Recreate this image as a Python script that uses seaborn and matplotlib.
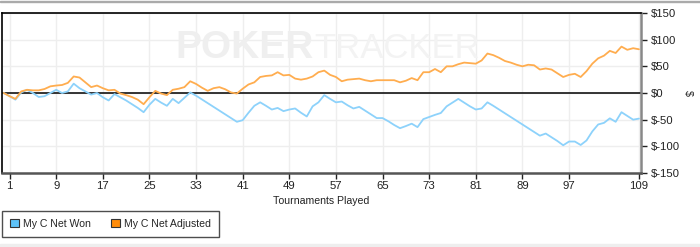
import matplotlib
matplotlib.use("Agg")
import matplotlib.pyplot as plt
import seaborn as sns
import pandas as pd
from matplotlib.patches import Patch, Rectangle

tournaments = list(range(0, 110))
net_won = [0, -6, -12.5, 1, 6, 0, -7.5, -6, 0, 6, 0, 3, 17.5, 9, 3, -3, 0, -8, -14, -2,
           -8, -14, -21, -28, -36, -22, -11, -18, -24, -11, -19, -9, 1, -5, -12, -19, -26, -33, -40, -47,
           -54, -51, -37, -24, -17.5, -24, -31, -28, -34, -31, -29, -37, -44, -25, -17.5, -4, -11, -17.5, -16, -23,
           -29, -26, -33, -40, -47, -47, -53, -60, -66, -62, -57.5, -64, -49, -45, -41, -37.5, -25, -18, -11, -18,
           -25, -31, -29, -17.5, -24, -31, -38, -45, -52, -59, -66, -73, -80, -76, -83, -90, -98, -91, -91, -97.5,
           -89, -72, -59, -56, -47.5, -54, -36, -43, -50, -48]
net_adjusted = [0, -6, -11, 3, 6, 5, 5, 7.5, 12.5, 14, 15, 19, 31, 29, 20, 11, 14, 9, 5, 6,
                -1, -4, -7.5, -12.5, -21, -8, 4, -1, -4, 6, 8, 11, 22, 17, 10, 4, 9, 11, 7, 1,
                -1, 8, 16, 20, 30, 32, 33, 39, 33, 34, 27, 25, 27, 31, 39, 42, 34, 30, 22, 25,
                26, 27, 24, 22, 24, 24, 24, 24, 20, 23, 28, 24, 39, 39, 45, 39, 50, 50, 54, 57,
                56, 55, 61, 74, 71, 66, 60, 57, 53, 50, 53, 52, 44, 46, 44, 37, 30, 34, 36, 30,
                41, 55, 65, 70, 79, 75, 87, 81, 84, 82]
series_names = ["My C Net Won", "My C Net Adjusted"]
x_ticks = [1, 9, 17, 25, 33, 41, 49, 57, 65, 73, 81, 89, 97, 109]
y_ticks = [-150, -100, -50, 0, 50, 100, 150]

line_colors = {"My C Net Won": "#8dd2fb", "My C Net Adjusted": "#ffad4f"}
legend_colors = ["#5ec2f7", "#ff8c0a"]

df = pd.concat([
    pd.DataFrame({"Tournament": tournaments, "Value": net_won, "Series": series_names[0]}),
    pd.DataFrame({"Tournament": tournaments, "Value": net_adjusted, "Series": series_names[1]}),
])

sns.set_style("white")
plt.rcParams["font.family"] = ["Liberation Sans", "DejaVu Sans"]
FS = 7.6

fig = plt.figure(figsize=(7.0, 2.47), dpi=100)
ax = fig.add_axes([2 / 700, 1 - 173 / 247, 639 / 700, 160 / 247])

# watermark
fig.text(175 / 700, 1 - 48 / 247, "POKER", fontsize=28, fontweight="bold", color="#efefef",
         ha="left", va="center", zorder=0)
fig.text(314 / 700, 1 - 48 / 247, "TRACKER", fontsize=25, color="#f3f3f3",
         ha="left", va="center", zorder=0)

ax.set_facecolor("none")
for t in x_ticks:
    ax.axvline(t, color="#eeeeee", lw=1, zorder=0)
for t in y_ticks:
    ax.axhline(t, color="#eeeeee", lw=1, zorder=0)
ax.axhline(0, color="black", lw=1.1, zorder=2)

sns.lineplot(data=df, x="Tournament", y="Value", hue="Series", palette=line_colors,
             linewidth=1.3, ax=ax, legend=False, zorder=3)

ax.set_xlim(-0.3, 109.35)
ax.set_ylim(-150, 150)
ax.set_xticks(x_ticks)
ax.set_xticklabels([str(t) for t in x_ticks])
ax.set_yticks(y_ticks)
ax.set_yticklabels([f"${t}" for t in y_ticks])
ax.yaxis.tick_right()
ax.yaxis.set_label_position("right")
ax.tick_params(axis="both", labelsize=FS + 0.6, colors="#222222", length=4, width=1, direction="out")
ax.tick_params(axis="x", bottom=True, pad=2)
ax.tick_params(axis="y", right=True, left=False, pad=3)
ax.set_xlabel("Tournaments Played", fontsize=FS, color="#222222", labelpad=3)
ax.set_ylabel("$", fontsize=FS, rotation=-90, color="#222222", labelpad=9)

ax.spines["left"].set_color("black")
ax.spines["top"].set_color("black")
ax.spines["bottom"].set_color("#555555")
ax.spines["right"].set_color("#888888")
for s in ax.spines.values():
    s.set_linewidth(1.2)
ax.spines["right"].set_linewidth(1.8)
ax.spines["bottom"].set_linewidth(1.8)

handles = [Patch(facecolor=c, edgecolor="#333333", linewidth=0.8) for c in legend_colors]
leg = fig.legend(handles, series_names, loc="upper left", bbox_to_anchor=(2 / 700, 1 - 211 / 247),
                 ncol=2, frameon=True, fontsize=FS, handlelength=0.85, handleheight=0.85,
                 handletextpad=0.4, columnspacing=1.9, borderpad=0.75, fancybox=False,
                 borderaxespad=0)
leg.get_frame().set_edgecolor("#222222")
leg.get_frame().set_linewidth(1.0)

# figure decorations: top rule and bottom strip
fig.patches.append(Rectangle((0, 1 - 2 / 247), 1, 1 / 247, transform=fig.transFigure,
                             color="#aaaaaa", zorder=0))
fig.patches.append(Rectangle((0, 0), 1, 3 / 247, transform=fig.transFigure,
                             color="#eeeeee", zorder=0))

fig.savefig("out.png", dpi=100)
